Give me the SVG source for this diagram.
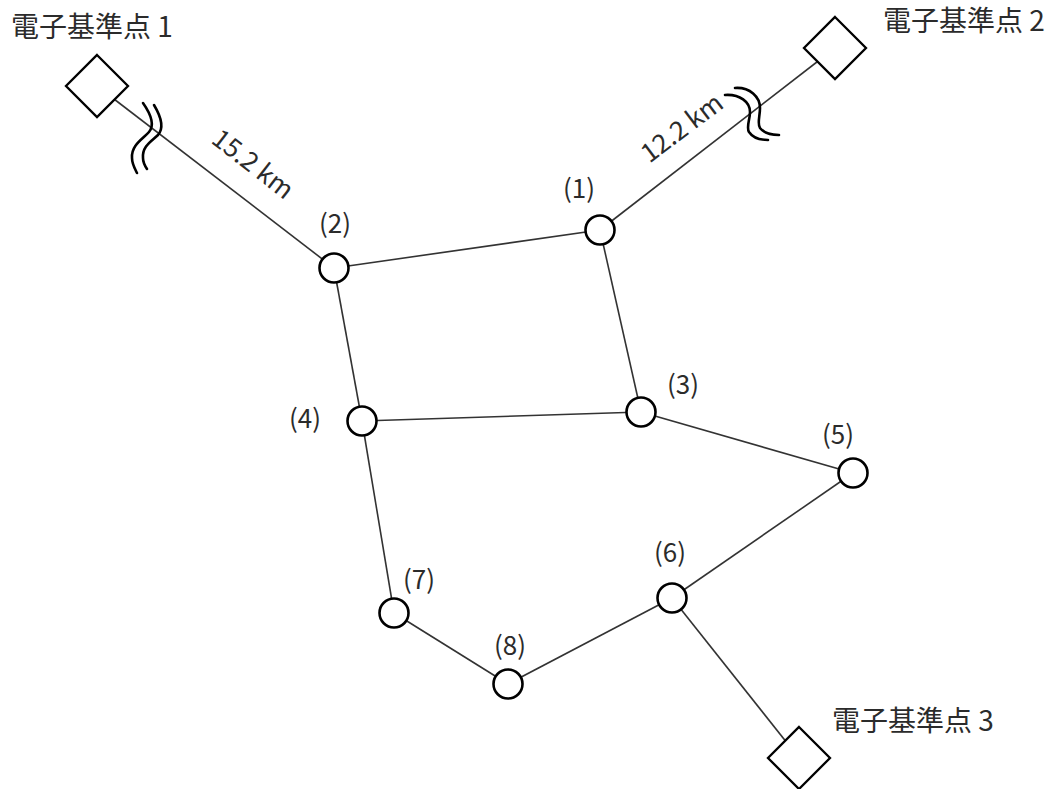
<svg xmlns="http://www.w3.org/2000/svg" width="1063" height="789" viewBox="0 0 1063 789">
<style>
.edge{stroke:#333;stroke-width:1.6;fill:none}
.brk{stroke:#000;stroke-width:2.6;fill:none;stroke-linecap:round}
.node{fill:#fff;stroke:#000;stroke-width:2.6}
.station{fill:#fff;stroke:#000;stroke-width:2.3}
text{font-family:"Noto Sans CJK JP","Noto Sans",sans-serif;fill:#2b2b2b}
.title{font-size:28px}
.lbl{font-size:26px;text-anchor:middle}
</style>
<rect width="1063" height="789" fill="#fff"/>
<g id="connectors">
<line class="edge" x1="97" y1="86" x2="334" y2="268"/>
<line class="edge" x1="835" y1="48" x2="600" y2="230"/>
<line class="edge" x1="334" y1="268" x2="600" y2="230"/>
<line class="edge" x1="334" y1="268" x2="362" y2="421"/>
<line class="edge" x1="600" y1="230" x2="641" y2="412"/>
<line class="edge" x1="362" y1="421" x2="641" y2="412"/>
<line class="edge" x1="641" y1="412" x2="853" y2="473"/>
<line class="edge" x1="362" y1="421" x2="394" y2="613"/>
<line class="edge" x1="394" y1="613" x2="508" y2="684"/>
<line class="edge" x1="508" y1="684" x2="672" y2="598"/>
<line class="edge" x1="672" y1="598" x2="853" y2="473"/>
<line class="edge" x1="672" y1="598" x2="799" y2="758"/>
<path class="brk" d="M143,103 C150,113 155,125 149,132 C143,139 131,145 132,158 C132,164 135,169 137,173"/>
<path class="brk" d="M154,105 C160,115 165,127 158,135 C152,141 142,146 143,158 C143,162 145,166 147,169"/>
<path class="brk" d="M725,95 C740,94 750,102 750,112 C750,120 746,127 749,132 C753,138 760,140 768,140"/>
<path class="brk" d="M735,88 C750,87 760,97 760,108 C760,116 757,124 760,128 C764,133 770,135 779,135"/>
<text class="lbl" transform="translate(253,164) rotate(38)" y="9">15.2 km</text>
<text class="lbl" transform="translate(682,128) rotate(-37)" y="9">12.2 km</text>
</g>
<g id="station1">
<polygon class="station" points="97,55 128,86 97,117 66,86"/>
<text class="title" x="11" y="37">電子基準点 1</text>
</g>
<g id="station2">
<polygon class="station" points="835,17 866,48 835,79 804,48"/>
<text class="title" x="883" y="31">電子基準点 2</text>
</g>
<g id="station3">
<polygon class="station" points="799,727 830,758 799,789 768,758"/>
<text class="title" x="832" y="731">電子基準点 3</text>
</g>
<g id="n1"><circle class="node" cx="600" cy="230" r="14.5"/><text class="lbl" x="579" y="198">(1)</text></g>
<g id="n2"><circle class="node" cx="334" cy="268" r="14.5"/><text class="lbl" x="335" y="233">(2)</text></g>
<g id="n3"><circle class="node" cx="641" cy="412" r="14.5"/><text class="lbl" x="683" y="394">(3)</text></g>
<g id="n4"><circle class="node" cx="362" cy="421" r="14.5"/><text class="lbl" x="305" y="428">(4)</text></g>
<g id="n5"><circle class="node" cx="853" cy="473" r="14.5"/><text class="lbl" x="838" y="444">(5)</text></g>
<g id="n6"><circle class="node" cx="672" cy="598" r="14.5"/><text class="lbl" x="670" y="562">(6)</text></g>
<g id="n7"><circle class="node" cx="394" cy="613" r="14.5"/><text class="lbl" x="419" y="589">(7)</text></g>
<g id="n8"><circle class="node" cx="508" cy="684" r="14.5"/><text class="lbl" x="510" y="655">(8)</text></g>
</svg>
